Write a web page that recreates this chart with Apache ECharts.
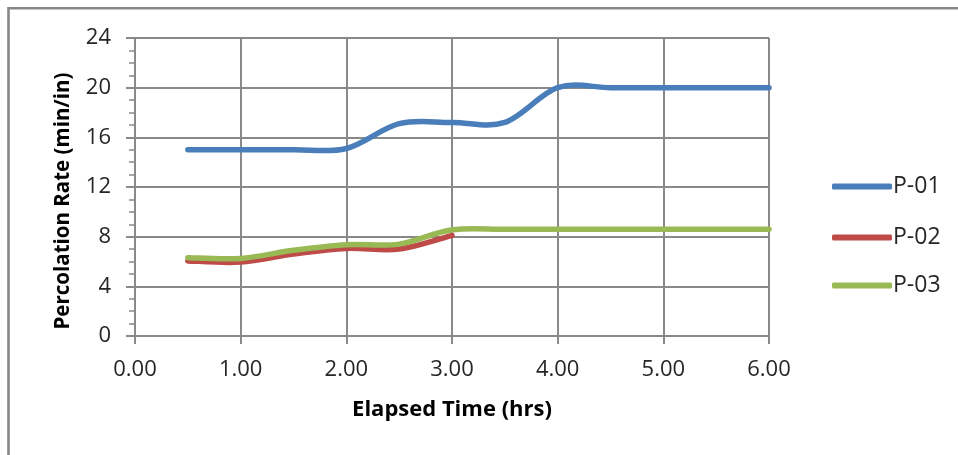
<!DOCTYPE html>
<html>
<head>
<meta charset="utf-8">
<script src="https://cdn.jsdelivr.net/npm/echarts@6/dist/echarts.min.js"></script>
<style>html,body{margin:0;padding:0;background:#fff}#c{width:958px;height:455px}</style>
</head>
<body>
<div id="c"></div>
<script>
const timesP01 = [0.5, 1.0, 1.5, 2.0, 2.5, 3.0, 3.5, 4.0, 4.5, 5.0, 5.5, 6.0];
const valuesP01 = [15, 15, 15, 15.1, 17.1, 17.2, 17.2, 20, 20, 20, 20, 20];
const timesP02 = [0.5, 1.0, 1.5, 2.0, 2.5, 3.0];
const valuesP02 = [6.05, 5.95, 6.6, 7.05, 7.0, 8.1];
const timesP03 = [0.5, 1.0, 1.5, 2.0, 2.5, 3.0, 3.5, 4.0, 4.5, 5.0, 5.5, 6.0];
const valuesP03 = [6.3, 6.25, 6.9, 7.35, 7.4, 8.55, 8.6, 8.6, 8.6, 8.6, 8.6, 8.6];
const seriesNames = ['P-01', 'P-02', 'P-03'];
const xTicks = ['0.00', '1.00', '2.00', '3.00', '4.00', '5.00', '6.00'];
const yTicks = [0, 4, 8, 12, 16, 20, 24];
const xTitle = 'Elapsed Time (hrs)';
const yTitle = 'Percolation Rate (min/in)';

const colors = ['#4A7EBB', '#BE4B48', '#98B954'];
const pair = (xs, ys) => xs.map((x, i) => [x, ys[i]]);
const FONT = '"Open Sans", sans-serif';
const labelColor = '#262626';
const gridColor = '#898989';

const chart = echarts.init(document.getElementById('c'), null, {renderer: 'canvas'});

function legendFor(i, top) {
  return {
    data: [seriesNames[i]],
    left: 832, top: top, padding: 0,
    itemWidth: 60, itemHeight: 6,
    icon: 'roundRect',
    itemGap: 0,
    textStyle: {fontFamily: FONT, fontSize: 23, color: labelColor, padding: [0, 0, 0, -4]},
    selectedMode: false
  };
}

// Excel-like smoothed line (Catmull-Rom Bezier) drawn through the axis scales
function smoothSeries(idx, xs, ys, z) {
  const pts = pair(xs, ys);
  return {
    name: seriesNames[idx], type: 'custom', data: pts, z: z,
    itemStyle: {color: colors[idx]},
    encode: {x: 0, y: 1},
    renderItem: function (params, api) {
      if (params.dataIndex !== 0) return null;
      const p = pts.map(d => api.coord(d));
      const n = p.length;
      let d = 'M' + p[0][0] + ' ' + p[0][1];
      for (let i = 0; i < n - 1; i++) {
        const p0 = p[Math.max(i - 1, 0)], p1 = p[i], p2 = p[i + 1], p3 = p[Math.min(i + 2, n - 1)];
        const c1x = p1[0] + (p2[0] - p0[0]) / 6, c1y = p1[1] + (p2[1] - p0[1]) / 6;
        const c2x = p2[0] - (p3[0] - p1[0]) / 6, c2y = p2[1] - (p3[1] - p1[1]) / 6;
        d += ' C' + c1x + ' ' + c1y + ' ' + c2x + ' ' + c2y + ' ' + p2[0] + ' ' + p2[1];
      }
      return {
        type: 'path',
        shape: {pathData: d},
        style: {fill: 'none', stroke: colors[idx], lineWidth: 5.5, lineCap: 'round', lineJoin: 'round'}
      };
    }
  };
}

chart.setOption({
  animation: false,
  color: colors,
  graphic: [{
    type: 'rect', silent: true,
    shape: {x: 8.5, y: 8.3, width: 1000, height: 500},
    style: {fill: 'none', stroke: '#878787', lineWidth: 2.6}
  }, {
    type: 'text', silent: true,
    x: 63, y: 201, rotation: Math.PI / 2,
    style: {text: yTitle, fontFamily: FONT, fontSize: 20.5, fontWeight: 'bold', fill: '#000',
      align: 'center', verticalAlign: 'middle'}
  }],
  grid: {left: 135, right: 189, top: 38, bottom: 119, containLabel: false},
  legend: [legendFor(0, 175), legendFor(1, 226), legendFor(2, 274)],
  xAxis: {
    type: 'value', min: 0, max: 6, interval: 1,
    name: xTitle, nameLocation: 'middle', nameGap: 63,
    nameTextStyle: {fontFamily: FONT, fontSize: 22, fontWeight: 'bold', color: '#000'},
    axisLine: {show: true, onZero: false, lineStyle: {color: gridColor, width: 2}},
    axisTick: {show: true, length: 8, lineStyle: {color: gridColor, width: 2}},
    axisLabel: {fontFamily: FONT, fontSize: 22, color: labelColor, margin: 23,
      formatter: v => xTicks[Math.round(v)]},
    splitLine: {show: true, lineStyle: {color: gridColor, width: 2}}
  },
  yAxis: {
    type: 'value', min: 0, max: 24, interval: 4,
    axisLine: {show: true, lineStyle: {color: gridColor, width: 2}},
    axisTick: {show: true, length: 9, lineStyle: {color: gridColor, width: 2}},
    minorTick: {show: true, splitNumber: 4, length: 6, lineStyle: {color: gridColor, width: 1.5}},
    axisLabel: {fontFamily: FONT, fontSize: 22, color: labelColor, margin: 24,
      formatter: v => yTicks.includes(v) ? String(v) : ''},
    splitLine: {show: true, lineStyle: {color: gridColor, width: 2}}
  },
  series: [
    smoothSeries(0, timesP01, valuesP01, 3),
    smoothSeries(1, timesP02, valuesP02, 3),
    smoothSeries(2, timesP03, valuesP03, 4)
  ]
});
</script>
</body>
</html>
